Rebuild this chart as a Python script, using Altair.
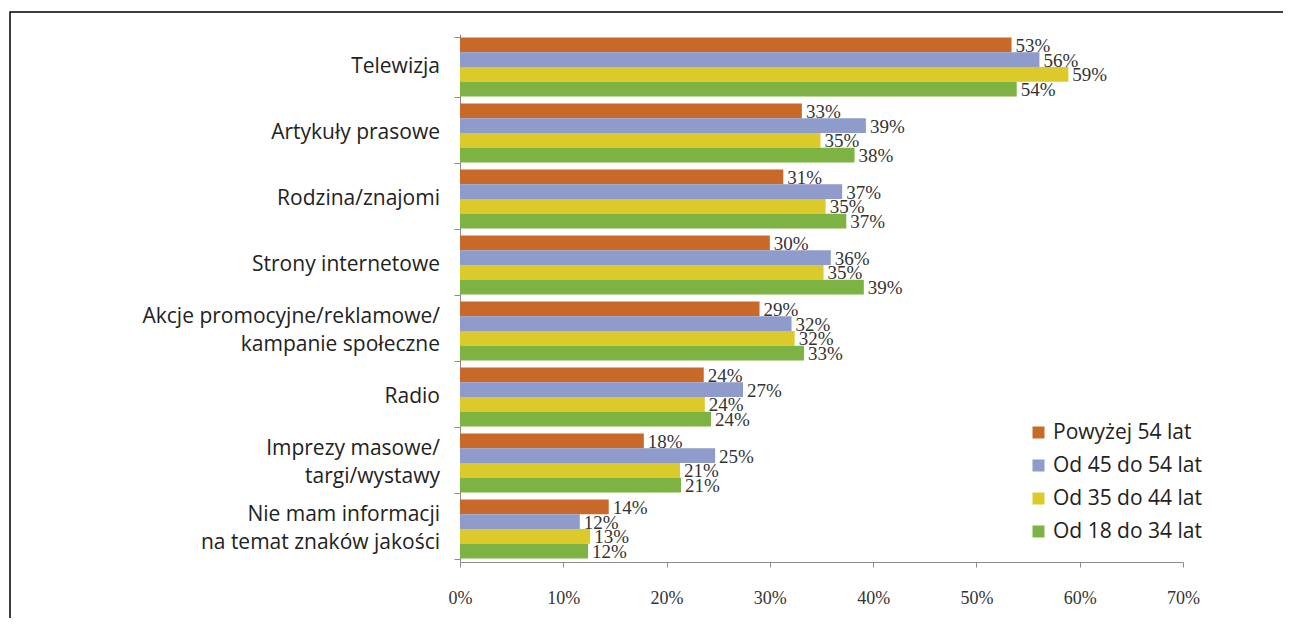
import altair as alt
import pandas as pd

series = ["Powyżej 54 lat", "Od 45 do 54 lat", "Od 35 do 44 lat", "Od 18 do 34 lat"]
colors = ["#C8692A", "#8E9BCB", "#DCC92A", "#7CB342"]
categories = [
    "Telewizja",
    "Artykuły prasowe",
    "Rodzina/znajomi",
    "Strony internetowe",
    "Akcje promocyjne/reklamowe/|kampanie społeczne",
    "Radio",
    "Imprezy masowe/|targi/wystawy",
    "Nie mam informacji|na temat znaków jakości",
]
powyzej_54 = [53.4, 33.1, 31.3, 30.0, 29.0, 23.6, 17.8, 14.4]
od_45_54 = [56.1, 39.3, 37.0, 35.9, 32.1, 27.4, 24.7, 11.6]
od_35_44 = [58.9, 34.9, 35.4, 35.2, 32.4, 23.7, 21.3, 12.6]
od_18_34 = [53.9, 38.2, 37.4, 39.1, 33.3, 24.3, 21.4, 12.4]
x_ticks = [0, 10, 20, 30, 40, 50, 60, 70]

rows = []
for s, vals in zip(series, [powyzej_54, od_45_54, od_35_44, od_18_34]):
    for c, v in zip(categories, vals):
        rows.append({"cat": c, "series": s, "v": v, "label": f"{round(v)}%"})
df = pd.DataFrame(rows)

lab_rows = []
for c in categories:
    parts = c.split("|")
    lab_rows.append({"cat": c, "n": len(parts), "l1": parts[0], "l2": parts[-1]})
lab_df = pd.DataFrame(lab_rows)

axis_col = "#8c8c8c"

y = alt.Y(
    "cat:N",
    sort=categories,
    scale=alt.Scale(paddingInner=0.106, paddingOuter=0.053),
    axis=alt.Axis(
        title=None,
        labels=False,
        tickBand="extent",
        tickSize=6,
        domainColor=axis_col,
        tickColor=axis_col,
    ),
)
yoff = alt.YOffset("series:N", sort=series, scale=alt.Scale(paddingInner=0, paddingOuter=0))
x = alt.X(
    "v:Q",
    scale=alt.Scale(domain=[0, 70], nice=False),
    axis=alt.Axis(
        title=None,
        values=x_ticks,
        labelExpr="datum.value + '%'",
        labelFlush=False,
        grid=False,
        labelFont="Liberation Serif",
        labelFontSize=18,
        labelColor="#333333",
        labelPadding=22,
        tickSize=5,
        domainColor=axis_col,
        tickColor=axis_col,
    ),
)

bars = alt.Chart(df).mark_bar().encode(
    y=y,
    yOffset=yoff,
    x=x,
    color=alt.Color(
        "series:N",
        sort=series,
        scale=alt.Scale(domain=series, range=colors),
        legend=alt.Legend(
            title=None,
            orient="none",
            legendX=568,
            legendY=388,
            symbolType="square",
            symbolSize=144,
            symbolStrokeWidth=0,
            labelFont="Open Sans",
            labelFontSize=21,
            labelColor="#222222",
            rowPadding=11,
            labelOffset=4,
            padding=0,
        ),
    ),
)

text = alt.Chart(df).mark_text(
    align="left", baseline="middle", dx=4, dy=1,
    font="Liberation Serif", fontSize=19, color="#333333"
).encode(y=y, yOffset=yoff, x=x, text="label:N")

lab_style = dict(align="right", baseline="middle", font="Open Sans", fontSize=21, color="#222222")
lab_single = alt.Chart(lab_df).transform_filter("datum.n == 1").mark_text(**lab_style).encode(
    y=y, x=alt.value(-20), text="l1:N")
lab_first = alt.Chart(lab_df).transform_filter("datum.n == 2").mark_text(dy=-14, **lab_style).encode(
    y=y, x=alt.value(-20), text="l1:N")
lab_second = alt.Chart(lab_df).transform_filter("datum.n == 2").mark_text(dy=14, **lab_style).encode(
    y=y, x=alt.value(-20), text="l2:N")

frame = alt.Chart(pd.DataFrame({"k": [0]})).mark_rect(
    fillOpacity=0, stroke="black", strokeWidth=1.5
).encode(x=alt.value(-450), x2=alt.value(829), y=alt.value(-22), y2=alt.value(620))

chart = alt.layer(frame, bars, text, lab_single, lab_first, lab_second).properties(
    width=723,
    height=528,
    padding={"left": 452, "top": 26, "right": 100, "bottom": 56},
    autosize=alt.AutoSizeParams(type="none"),
).configure_view(stroke=None)

chart.save("out.html", embed_options={"renderer": "svg", "actions": False})
